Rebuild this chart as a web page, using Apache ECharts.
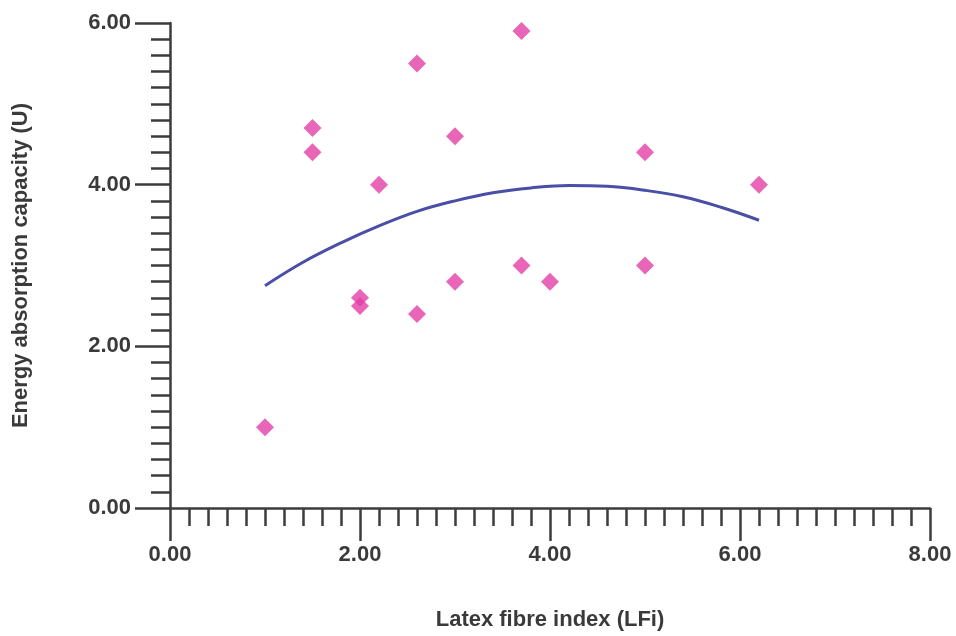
<!DOCTYPE html>
<html>
<head>
<meta charset="utf-8">
<script src="https://cdn.jsdelivr.net/npm/echarts@6/dist/echarts.min.js"></script>
<style>
html,body{margin:0;padding:0;background:#fff;}
#chart{width:956px;height:636px;}
</style>
</head>
<body>
<div id="chart"></div>
<script>
// Observed data points (LFi, U)
const pointX = [1.0, 1.5, 1.5, 2.0, 2.0, 2.2, 2.6, 2.6, 3.0, 3.0, 3.7, 3.7, 4.0, 5.0, 5.0, 6.2];
const pointY = [1.0, 4.7, 4.4, 2.6, 2.5, 4.0, 5.5, 2.4, 4.6, 2.8, 5.9, 3.0, 2.8, 4.4, 3.0, 4.0];
// Fitted curve
const curveX = [1.0, 1.4, 1.8, 2.2, 2.6, 3.0, 3.4, 3.8, 4.2, 4.6, 5.0, 5.4, 5.8, 6.2];
const curveY = [2.75, 3.04, 3.28, 3.49, 3.67, 3.80, 3.90, 3.96, 3.99, 3.98, 3.93, 3.85, 3.72, 3.56];
// Tick labels
const xTicks = ['0.00', '2.00', '4.00', '6.00', '8.00'];
const yTicks = ['0.00', '2.00', '4.00', '6.00'];

const axisColor = '#3c3c3c';
const textColor = '#3a3a3a';
const font = 'Liberation Sans, Arial, sans-serif';

const chart = echarts.init(document.getElementById('chart'));
chart.setOption({
  backgroundColor: '#fff',
  animation: false,
  grid: {left: 170, right: 26, top: 23, bottom: 126},
  xAxis: {
    type: 'value', min: 0, max: 8, interval: 2,
    name: 'Latex fibre index (LFi)', nameLocation: 'middle', nameGap: 101,
    nameTextStyle: {fontFamily: font, fontWeight: 'bold', fontSize: 22, color: textColor},
    axisLine: {show: true, onZero: false, lineStyle: {color: axisColor, width: 2.5}},
    axisTick: {show: true, length: 33, lineStyle: {color: axisColor, width: 2.5}},
    minorTick: {show: true, splitNumber: 10, length: 18, lineStyle: {color: axisColor, width: 2.5}},
    splitLine: {show: false},
    axisLabel: {
      margin: 36, fontFamily: font, fontWeight: 'bold', fontSize: 22, color: textColor,
      formatter: v => xTicks[Math.round(v / 2)]
    }
  },
  yAxis: {
    type: 'value', min: 0, max: 6, interval: 2,
    name: 'Energy absorption capacity (U)', nameLocation: 'middle', nameGap: 138,
    nameTextStyle: {fontFamily: font, fontWeight: 'bold', fontSize: 22, color: textColor},
    axisLine: {show: true, onZero: false, lineStyle: {color: axisColor, width: 2.5}},
    axisTick: {show: true, length: 35, lineStyle: {color: axisColor, width: 2.5}},
    minorTick: {show: true, splitNumber: 10, length: 19, lineStyle: {color: axisColor, width: 2.5}},
    splitLine: {show: false},
    axisLabel: {
      margin: 39, fontFamily: font, fontWeight: 'bold', fontSize: 22, color: textColor,
      formatter: v => yTicks[Math.round(v / 2)]
    }
  },
  series: [
    {
      type: 'line',
      data: curveX.map((x, i) => [x, curveY[i]]),
      smooth: 0.4,
      showSymbol: false,
      lineStyle: {color: '#4a4ea6', width: 3},
      z: 2
    },
    {
      type: 'scatter',
      data: pointX.map((x, i) => [x, pointY[i]]),
      symbol: 'diamond',
      symbolSize: [18, 18],
      itemStyle: {color: '#e23fa6'},
      z: 3
    }
  ]
});
</script>
</body>
</html>
